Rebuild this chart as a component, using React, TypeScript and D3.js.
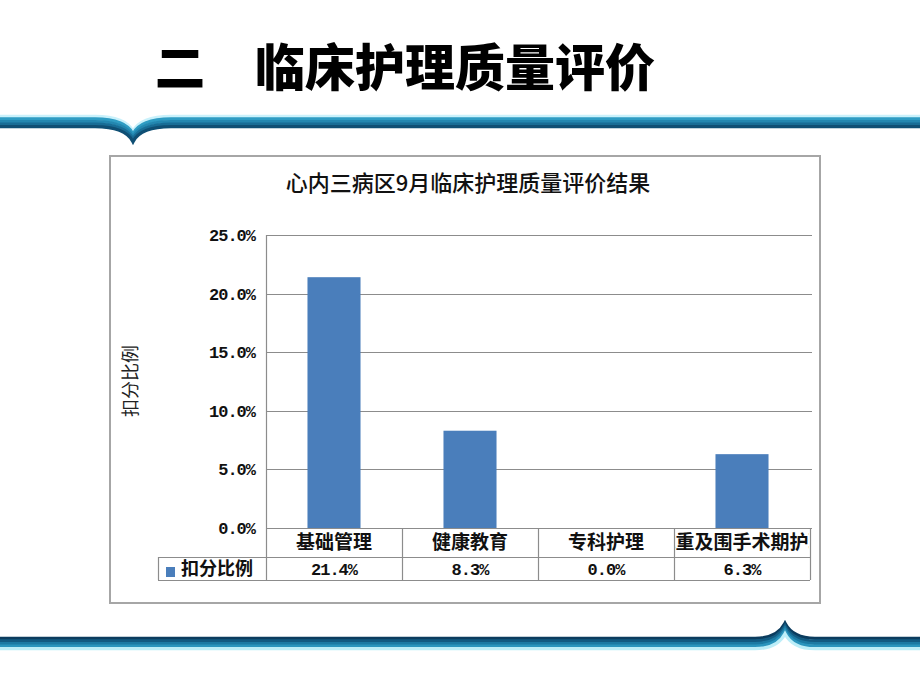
import React from "react";
import * as d3 from "d3";

const categories = ["基础管理", "健康教育", "专科护理", "危重及围手术期护理"];
const values = [21.4, 8.3, 0.0, 6.3];
const yTicks = [0, 5, 10, 15, 20, 25];
const seriesName = "扣分比例";
const chartTitle = "心内三病区9月临床护理质量评价结果";
const pageTitle = "二　临床护理质量评价";

const W = 920;
const H = 690;
const CJK = "'Noto Sans CJK SC', 'Noto Sans', sans-serif";
const MONO = "'Liberation Mono', 'DejaVu Sans Mono', monospace";

const plot = { left: 266, right: 810, top: 235, bottom: 528 };
const rowH1 = 29;
const rowH2 = 23;
const legendLeft = 158;
const barColor = "#4a7ebb";
const gridColor = "#8c8c8c";

function bandPath(yc: number, tipX: number, dir: number, halfW: number, depth: number) {
  const p = d3.path();
  p.moveTo(0, yc);
  p.lineTo(tipX - halfW, yc);
  p.bezierCurveTo(tipX - halfW * 0.45, yc, tipX - 5, yc + dir * depth * 0.35, tipX, yc + dir * depth);
  p.bezierCurveTo(tipX + 5, yc + dir * depth * 0.35, tipX + halfW * 0.45, yc, tipX + halfW, yc);
  p.lineTo(W, yc);
  return p.toString();
}

function Band({ yc, tipX, dir, halfW, depth, colors }: { yc: number; tipX: number; dir: number; halfW: number; depth: number; colors: string[] }) {
  const n = colors.length;
  const lw = 13 / n;
  return (
    <g>
      {colors.map((c, i) => {
        const off = -6.5 + lw * (i + 0.5);
        return (
          <path
            key={i}
            d={bandPath(yc + off, tipX, dir, halfW, depth)}
            fill="none"
            stroke={c}
            strokeWidth={lw + 0.6}
          />
        );
      })}
    </g>
  );
}

export default function App() {
  const y = d3.scaleLinear().domain([0, 25]).range([plot.bottom, plot.top]);
  const x = d3
    .scaleBand<string>()
    .domain(categories)
    .range([plot.left, plot.right])
    .paddingInner(0.61)
    .paddingOuter(0.305);
  const step = x.step();
  const colStart = (i: number) => plot.left + i * step;
  const fmt = (v: number) => v.toFixed(1) + "%";

  const tableTop = plot.bottom;
  const row1Bottom = tableTop + rowH1;
  const row2Bottom = row1Bottom + rowH2;

  return (
    <svg
      width={W}
      height={H}
      style={{ position: "absolute", left: 0, top: 0, background: "#fff" }}
    >
      <rect x={0} y={0} width={W} height={H} fill="#fff" />
      <defs>
        {categories.map((c, i) => (
          <clipPath id={`cell${i}`} key={c}>
            <rect x={colStart(i) + 1} y={tableTop} width={step - 2} height={rowH1} />
          </clipPath>
        ))}
      </defs>

      {/* page title */}
      <text
        x={155}
        y={86}
        fontFamily={CJK}
        fontWeight={900}
        fontSize={50}
        fill="#000"
      >
        {pageTitle}
      </text>

      {/* decorative bands */}
      <Band
        yc={121.5}
        tipX={133}
        dir={1}
        halfW={38}
        depth={15}
        colors={["#c9f1fb", "#2f9cc3", "#2387b0", "#186d96", "#0f4f74"]}
      />
      <Band
        yc={643.5}
        tipX={785}
        dir={-1}
        halfW={30}
        depth={15}
        colors={["#0b3c5e", "#135b82", "#1c7aa3", "#2b95bd", "#bdeef8"]}
      />

      {/* chart box */}
      <rect x={110} y={156} width={710} height={447} fill="#fff" stroke="#a6a6a6" strokeWidth={2} />

      <text
        x={468}
        y={191}
        textAnchor="middle"
        fontFamily={CJK}
        fontWeight={500}
        fontSize={22}
        fill="#111"
      >
        {chartTitle}
      </text>

      {/* y axis title */}
      <text
        transform={`translate(137,381) rotate(-90)`}
        textAnchor="middle"
        fontFamily={CJK}
        fontSize={18}
        fill="#222"
      >
        {seriesName}
      </text>

      {/* gridlines */}
      {yTicks.map((t) => (
        <line
          key={t}
          x1={plot.left}
          x2={plot.right + 2}
          y1={Math.round(y(t)) + 0.5}
          y2={Math.round(y(t)) + 0.5}
          stroke={gridColor}
          strokeWidth={1.2}
        />
      ))}
      {/* y tick labels */}
      {yTicks.map((t) => (
        <text
          key={"l" + t}
          x={255}
          y={y(t) + 6}
          textAnchor="end"
          fontFamily={MONO}
          fontWeight={700}
          fontSize={17}
          letterSpacing={-1}
          fill="#111"
        >
          {fmt(t)}
        </text>
      ))}

      {/* bars */}
      {categories.map((c, i) => (
        <rect
          key={c}
          x={x(c)}
          y={y(values[i])}
          width={x.bandwidth()}
          height={plot.bottom - y(values[i])}
          fill={barColor}
        />
      ))}

      {/* y axis line */}
      <line x1={plot.left + 0.5} x2={plot.left + 0.5} y1={plot.top} y2={row2Bottom} stroke={gridColor} strokeWidth={1.2} />

      {/* data table */}
      <g stroke={gridColor} strokeWidth={1.2}>
        <line x1={plot.left} x2={plot.right} y1={tableTop + 0.5} y2={tableTop + 0.5} />
        <line x1={legendLeft} x2={plot.right} y1={row1Bottom + 0.5} y2={row1Bottom + 0.5} />
        <line x1={legendLeft} x2={plot.right} y1={row2Bottom + 0.5} y2={row2Bottom + 0.5} />
        <line x1={legendLeft + 0.5} x2={legendLeft + 0.5} y1={row1Bottom} y2={row2Bottom} />
        {categories.map((c, i) => (
          <line
            key={c}
            x1={colStart(i + 1) + 0.5}
            x2={colStart(i + 1) + 0.5}
            y1={tableTop}
            y2={row2Bottom}
          />
        ))}
      </g>

      {categories.map((c, i) => (
        <g key={"c" + c} clipPath={`url(#cell${i})`}>
          <text
            x={(x(c) as number) + x.bandwidth() / 2}
            y={tableTop + 21}
            textAnchor="middle"
            fontFamily={CJK}
            fontWeight={700}
            fontSize={19}
            fill="#111"
          >
            {c}
          </text>
        </g>
      ))}

      {categories.map((c, i) => (
        <text
          key={"v" + c}
          x={(x(c) as number) + x.bandwidth() / 2}
          y={row1Bottom + 18}
          textAnchor="middle"
          fontFamily={MONO}
          fontWeight={700}
          fontSize={17}
          letterSpacing={-1}
          fill="#111"
        >
          {fmt(values[i])}
        </text>
      ))}

      {/* legend key */}
      <rect x={166} y={567} width={9} height={10} fill={barColor} />
      <text
        x={181}
        y={row1Bottom + 18}
        fontFamily={CJK}
        fontWeight={700}
        fontSize={18}
        fill="#111"
      >
        {seriesName}
      </text>
    </svg>
  );
}
